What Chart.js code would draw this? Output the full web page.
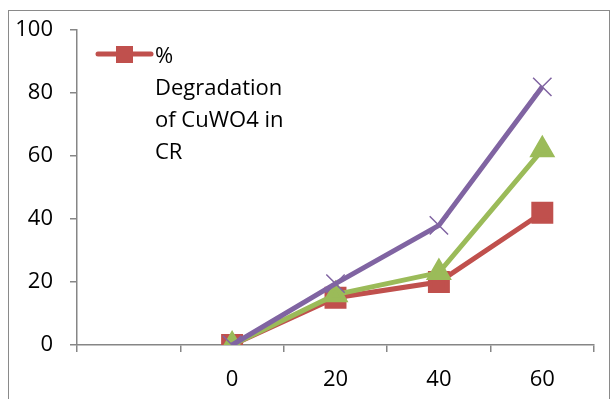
<!DOCTYPE html>
<html>
<head>
<meta charset="utf-8">
<script src="https://cdn.jsdelivr.net/npm/chart.js@4"></script>
<style>
  body { margin: 0; background: #fff; }
  #wrap { position: relative; width: 611px; height: 399px; overflow: hidden; }
  #frame { position: absolute; left: 8px; top: 10px; width: 602px; height: 400px; border: 1.5px solid #8a8a8a; box-sizing: border-box; }
  canvas { position: absolute; left: 0; top: 0; }
</style>
</head>
<body>
<div id="wrap">
  <div id="frame"></div>
  <canvas id="chart" width="611" height="399"></canvas>
</div>
<script>
const categories = ["", "0", "20", "40", "60"];
const redValues = [null, 0, 15, 20, 42];
const greenValues = [null, 0, 16, 23, 62];
const purpleValues = [null, 0, 19.5, 38, 82];
const yTicks = [0, 20, 40, 60, 80, 100];
const legendLines = ["%", "Degradation", "of CuWO4 in", "CR"];

const FONT = "'Open Sans', sans-serif";
const AXIS = "#868686";

// only the red series shows up in the legend, drawn inside the plot
const legendPlugin = {
  id: "insideLegend",
  afterDraw(chart) {
    const ctx = chart.ctx;
    const ds = chart.data.datasets[2];
    ctx.save();
    ctx.strokeStyle = ds.borderColor;
    ctx.lineWidth = 5;
    ctx.lineCap = "round";
    ctx.beginPath();
    ctx.moveTo(98, 54);
    ctx.lineTo(151, 54);
    ctx.stroke();
    ctx.fillStyle = ds.pointBackgroundColor;
    ctx.fillRect(116, 46, 17, 17);
    ctx.fillStyle = "#000";
    ctx.font = "22px " + FONT;
    ctx.textBaseline = "middle";
    legendLines.forEach((t, i) => ctx.fillText(t, 155, 57 + i * 32));
    ctx.restore();
  }
};

new Chart(document.getElementById("chart"), {
  type: "line",
  data: {
    labels: categories,
    datasets: [
      { label: "purple", data: purpleValues, order: 0, borderColor: "#8064A2", borderWidth: 5,
        pointStyle: "crossRot", pointRadius: 13, pointBorderColor: "#8064A2", pointBorderWidth: 1.5,
        pointBackgroundColor: "#8064A2", tension: 0 },
      { label: "green", data: greenValues, order: 1, borderColor: "#9BBB59", borderWidth: 5,
        pointStyle: "triangle", pointRadius: 10, pointBorderColor: "#9BBB59", pointBackgroundColor: "#9BBB59",
        tension: 0 },
      { label: "% Degradation of CuWO4 in CR", data: redValues, order: 2, borderColor: "#C0504D", borderWidth: 5,
        pointStyle: "rect", pointRadius: 12, pointBorderColor: "#C0504D", pointBackgroundColor: "#C0504D",
        tension: 0 }
    ]
  },
  options: {
    responsive: false,
    animation: false,
    layout: { padding: { left: 0, top: 30, right: 9, bottom: 0 } },
    plugins: { legend: { display: false }, tooltip: { enabled: false } },
    scales: {
      x: {
        offset: true,
        grid: { offset: true, drawOnChartArea: false, color: AXIS, lineWidth: 1.5, tickLength: 7 },
        border: { color: AXIS, width: 1.5 },
        ticks: { color: "#000", font: { family: FONT, size: 22 }, padding: 15, maxRotation: 0 },
        afterFit(s) { s.height = 54; }
      },
      y: {
        min: 0, max: 100,
        afterBuildTicks(s) { s.ticks = yTicks.map(v => ({ value: v })); },
        grid: { drawOnChartArea: false, color: AXIS, lineWidth: 1.5, tickLength: 7 },
        border: { color: AXIS, width: 1.5 },
        ticks: { color: "#000", font: { family: FONT, size: 22 }, padding: 17 },
        afterFit(s) { s.width = 77; }
      }
    }
  },
  plugins: [legendPlugin]
});
</script>
</body>
</html>
